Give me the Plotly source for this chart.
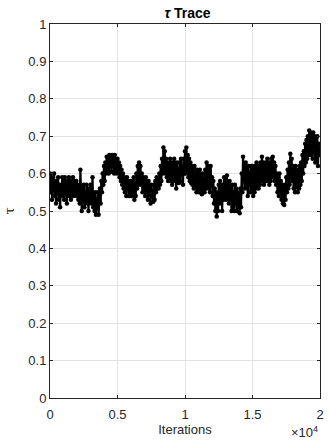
import plotly.graph_objects as go

# MCMC trace of tau, one sample every 50 iterations
step = 50
tau_0 = [0.60, 0.55, 0.59, 0.53, 0.58, 0.56, 0.60, 0.54, 0.57, 0.52, 0.58, 0.55, 0.59, 0.53, 0.57, 0.51, 0.56, 0.54, 0.59, 0.55]
tau_1 = [0.58, 0.53, 0.59, 0.55, 0.57, 0.52, 0.58, 0.55, 0.59, 0.54, 0.58, 0.53, 0.57, 0.55, 0.59, 0.54, 0.58, 0.56, 0.55, 0.58]
tau_2 = [0.54, 0.57, 0.53, 0.56, 0.52, 0.61, 0.55, 0.50, 0.56, 0.53, 0.57, 0.51, 0.55, 0.52, 0.57, 0.53, 0.56, 0.50, 0.55, 0.53]
tau_3 = [0.57, 0.52, 0.55, 0.59, 0.51, 0.54, 0.50, 0.55, 0.49, 0.53, 0.51, 0.55, 0.49, 0.53, 0.56, 0.52, 0.58, 0.55, 0.60, 0.57]
tau_4 = [0.62, 0.58, 0.63, 0.60, 0.645, 0.61, 0.64, 0.60, 0.65, 0.62, 0.645, 0.605, 0.65, 0.62, 0.64, 0.60, 0.65, 0.61, 0.635, 0.60]
tau_5 = [0.64, 0.61, 0.63, 0.59, 0.62, 0.58, 0.61, 0.57, 0.60, 0.56, 0.59, 0.55, 0.58, 0.54, 0.59, 0.56, 0.58, 0.54, 0.57, 0.55]
tau_6 = [0.58, 0.54, 0.57, 0.55, 0.59, 0.53, 0.57, 0.54, 0.60, 0.56, 0.62, 0.57, 0.63, 0.58, 0.62, 0.57, 0.60, 0.55, 0.59, 0.56]
tau_7 = [0.58, 0.54, 0.59, 0.55, 0.57, 0.53, 0.58, 0.55, 0.56, 0.52, 0.57, 0.54, 0.55, 0.525, 0.57, 0.53, 0.58, 0.55, 0.59, 0.56]
tau_8 = [0.58, 0.56, 0.60, 0.57, 0.62, 0.58, 0.64, 0.60, 0.67, 0.61, 0.66, 0.60, 0.64, 0.59, 0.63, 0.58, 0.62, 0.59, 0.64, 0.58]
tau_9 = [0.62, 0.57, 0.63, 0.59, 0.64, 0.58, 0.62, 0.56, 0.63, 0.58, 0.61, 0.575, 0.63, 0.58, 0.64, 0.60, 0.62, 0.57, 0.64, 0.60]
tau_10 = [0.66, 0.60, 0.67, 0.61, 0.65, 0.59, 0.64, 0.58, 0.63, 0.575, 0.62, 0.57, 0.61, 0.56, 0.62, 0.57, 0.60, 0.55, 0.61, 0.56]
tau_11 = [0.60, 0.55, 0.61, 0.56, 0.59, 0.545, 0.60, 0.56, 0.58, 0.55, 0.61, 0.56, 0.63, 0.57, 0.62, 0.56, 0.61, 0.55, 0.62, 0.57]
tau_12 = [0.59, 0.54, 0.58, 0.52, 0.56, 0.50, 0.55, 0.485, 0.54, 0.50, 0.57, 0.52, 0.58, 0.53, 0.56, 0.50, 0.57, 0.53, 0.59, 0.54]
tau_13 = [0.58, 0.53, 0.595, 0.54, 0.57, 0.52, 0.58, 0.53, 0.56, 0.50, 0.57, 0.51, 0.55, 0.50, 0.57, 0.52, 0.56, 0.50, 0.55, 0.51]
tau_14 = [0.54, 0.494, 0.56, 0.51, 0.60, 0.55, 0.645, 0.58, 0.62, 0.56, 0.63, 0.57, 0.61, 0.54, 0.62, 0.57, 0.60, 0.55, 0.62, 0.56]
tau_15 = [0.62, 0.54, 0.61, 0.55, 0.62, 0.56, 0.63, 0.57, 0.61, 0.56, 0.62, 0.57, 0.63, 0.58, 0.645, 0.59, 0.63, 0.57, 0.62, 0.58]
tau_16 = [0.63, 0.58, 0.64, 0.59, 0.62, 0.57, 0.63, 0.58, 0.64, 0.59, 0.645, 0.60, 0.63, 0.58, 0.62, 0.57, 0.60, 0.55, 0.59, 0.54]
tau_17 = [0.60, 0.55, 0.58, 0.53, 0.57, 0.52, 0.56, 0.516, 0.57, 0.53, 0.59, 0.55, 0.61, 0.56, 0.63, 0.57, 0.653, 0.59, 0.64, 0.58]
tau_18 = [0.62, 0.56, 0.61, 0.55, 0.62, 0.565, 0.60, 0.55, 0.61, 0.56, 0.62, 0.57, 0.63, 0.58, 0.65, 0.60, 0.66, 0.62, 0.68, 0.63]
tau_19 = [0.69, 0.64, 0.70, 0.65, 0.715, 0.66, 0.71, 0.65, 0.70, 0.64, 0.71, 0.66, 0.70, 0.63, 0.69, 0.64, 0.70, 0.62, 0.68, 0.65]

x_tick_vals = [0, 5000, 10000, 15000, 20000]
x_tick_text = ["0", "0.5", "1", "1.5", "2"]
y_tick_vals = [0, 0.1, 0.2, 0.3, 0.4, 0.5, 0.6, 0.7, 0.8, 0.9, 1]
y_tick_text = ["0", "0.1", "0.2", "0.3", "0.4", "0.5", "0.6", "0.7", "0.8", "0.9", "1"]

tau = (tau_0 + tau_1 + tau_2 + tau_3 + tau_4 + tau_5 + tau_6 + tau_7 + tau_8 + tau_9
       + tau_10 + tau_11 + tau_12 + tau_13 + tau_14 + tau_15 + tau_16 + tau_17 + tau_18 + tau_19)
iterations = [i * step for i in range(len(tau))]

FONT = "Liberation Sans, Arial, sans-serif"
AXIS_COLOR = "#262626"
GRID_COLOR = "#e3e3e3"

fig = go.Figure()
fig.add_trace(go.Scatter(
    x=iterations, y=tau,
    mode="lines+markers",
    line=dict(color="black", width=2.2),
    marker=dict(color="black", size=4.5),
    showlegend=False,
))

axis_common = dict(
    showline=True, linecolor=AXIS_COLOR, linewidth=1, mirror="ticks",
    ticks="inside", ticklen=3, tickcolor=AXIS_COLOR,
    showgrid=True, gridcolor=GRID_COLOR, gridwidth=1,
    zeroline=False,
    tickfont=dict(family=FONT, size=13, color=AXIS_COLOR),
)

fig.update_xaxes(
    range=[0, 20000], tickvals=x_tick_vals, ticktext=x_tick_text,
    ticklabelstandoff=4,
    title=dict(text="Iterations", font=dict(family=FONT, size=13, color=AXIS_COLOR), standoff=3),
    **axis_common,
)
fig.update_yaxes(
    range=[0, 1], tickvals=y_tick_vals, ticktext=y_tick_text,
    title=dict(text="τ", font=dict(family="DejaVu Serif, serif", size=13, color=AXIS_COLOR), standoff=10),
    **axis_common,
)

fig.add_annotation(
    text="×10<sup>4</sup>", xref="paper", yref="paper", x=1.0, y=-0.092,
    xanchor="right", yanchor="middle", showarrow=False,
    font=dict(family=FONT, size=13, color=AXIS_COLOR),
)

fig.update_layout(
    width=329, height=446,
    margin=dict(l=50, r=5, t=24, b=48),
    paper_bgcolor="white", plot_bgcolor="white",
    title=dict(
        text="<b><i>τ</i> Trace</b>", x=0.57, xanchor="center", y=1 - 13 / 446, yanchor="middle",
        yref="container", font=dict(family=FONT, size=14, color="black"),
    ),
)

fig.write_html("out.html")
